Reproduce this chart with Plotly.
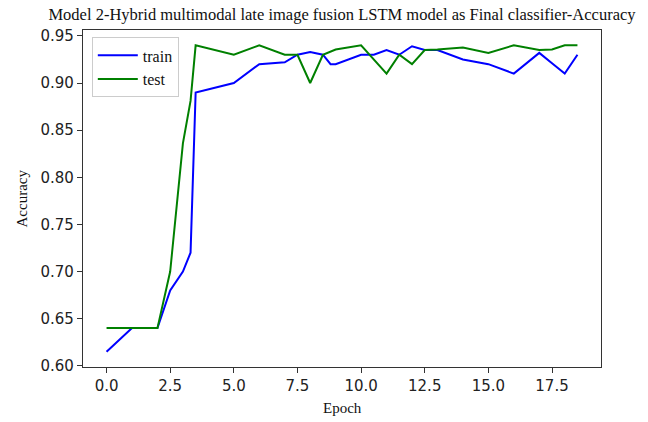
import plotly.graph_objects as go

# Accuracy per epoch for the late-fusion LSTM classifier
train_epoch = [0, 1, 2, 2.5, 3, 3.3, 3.5, 5, 6, 7, 7.5, 8, 8.5, 8.8, 9, 10, 10.5,
               11, 11.5, 12, 12.5, 13, 14, 15, 16, 17, 17.5, 18, 18.5]
train_acc = [0.615, 0.64, 0.64, 0.68, 0.70, 0.72, 0.89, 0.90, 0.92, 0.922, 0.930,
             0.933, 0.930, 0.920, 0.920, 0.930, 0.930, 0.935, 0.930, 0.939, 0.935,
             0.935, 0.925, 0.920, 0.910, 0.932, 0.921, 0.910, 0.930]

test_epoch = [0, 1, 2, 2.5, 3, 3.3, 3.5, 5, 6, 7, 7.5, 8, 8.5, 9, 10, 11, 11.5,
              12, 12.5, 13, 14, 15, 16, 17, 17.5, 18, 18.5]
test_acc = [0.64, 0.64, 0.64, 0.70, 0.836, 0.881, 0.94, 0.930, 0.94, 0.930, 0.930,
            0.900, 0.930, 0.9355, 0.94, 0.910, 0.930, 0.920, 0.935, 0.9355, 0.9376,
            0.932, 0.94, 0.935, 0.9355, 0.94, 0.94]

x_ticks = [0.0, 2.5, 5.0, 7.5, 10.0, 12.5, 15.0, 17.5]
y_ticks = [0.60, 0.65, 0.70, 0.75, 0.80, 0.85, 0.90, 0.95]

serif = "Liberation Serif, Times New Roman, serif"
sans = "DejaVu Sans, sans-serif"
axis_color = "#333333"
text_color = "#111111"

fig = go.Figure()
fig.add_trace(go.Scatter(x=train_epoch, y=train_acc, mode="lines", name="train",
                         line=dict(color="#0000ff", width=2)))
fig.add_trace(go.Scatter(x=test_epoch, y=test_acc, mode="lines", name="test",
                         line=dict(color="#008000", width=2)))

axis_common = dict(
    showgrid=False, zeroline=False, showline=True, mirror=True,
    linecolor=axis_color, linewidth=1.2,
    ticks="outside", ticklen=5, tickwidth=1.2, tickcolor=axis_color,
    tickfont=dict(family=sans, size=15, color="#222222"),
    automargin=False,
)

fig.update_layout(
    width=648, height=422,
    margin=dict(l=83, r=47, t=30, b=55, autoexpand=False),
    paper_bgcolor="white", plot_bgcolor="white",
    title=dict(text="Model 2-Hybrid multimodal late image fusion LSTM model as Final classifier-Accuracy",
               font=dict(family=serif, size=16.5, color=text_color),
               x=0.5, xref="paper", xanchor="center",
               y=1 - 14 / 422, yref="container", yanchor="middle"),
    xaxis=dict(range=[-0.925, 19.425], tickvals=x_ticks,
               ticktext=[f"{v:.1f}" for v in x_ticks], **axis_common),
    yaxis=dict(range=[0.59875, 0.95625], tickvals=y_ticks,
               ticktext=[f"{v:.2f}" for v in y_ticks], **axis_common),
    legend=dict(x=0.017, y=0.978, xanchor="left", yanchor="top",
                bgcolor="white", bordercolor="#cccccc", borderwidth=1,
                font=dict(family=serif, size=16, color=text_color),
                tracegroupgap=0, itemwidth=40),
    showlegend=True,
)

# Axis titles
fig.add_annotation(text="Epoch", xref="paper", yref="paper", x=0.5, y=-41 / 337,
                   xanchor="center", yanchor="middle", showarrow=False,
                   font=dict(family=serif, size=15, color=text_color))
fig.add_annotation(text="Accuracy", xref="paper", yref="paper", x=-62 / 518, y=0.5,
                   xanchor="center", yanchor="middle", textangle=-90, showarrow=False,
                   font=dict(family=serif, size=15, color=text_color))

fig.write_html("out.html")
